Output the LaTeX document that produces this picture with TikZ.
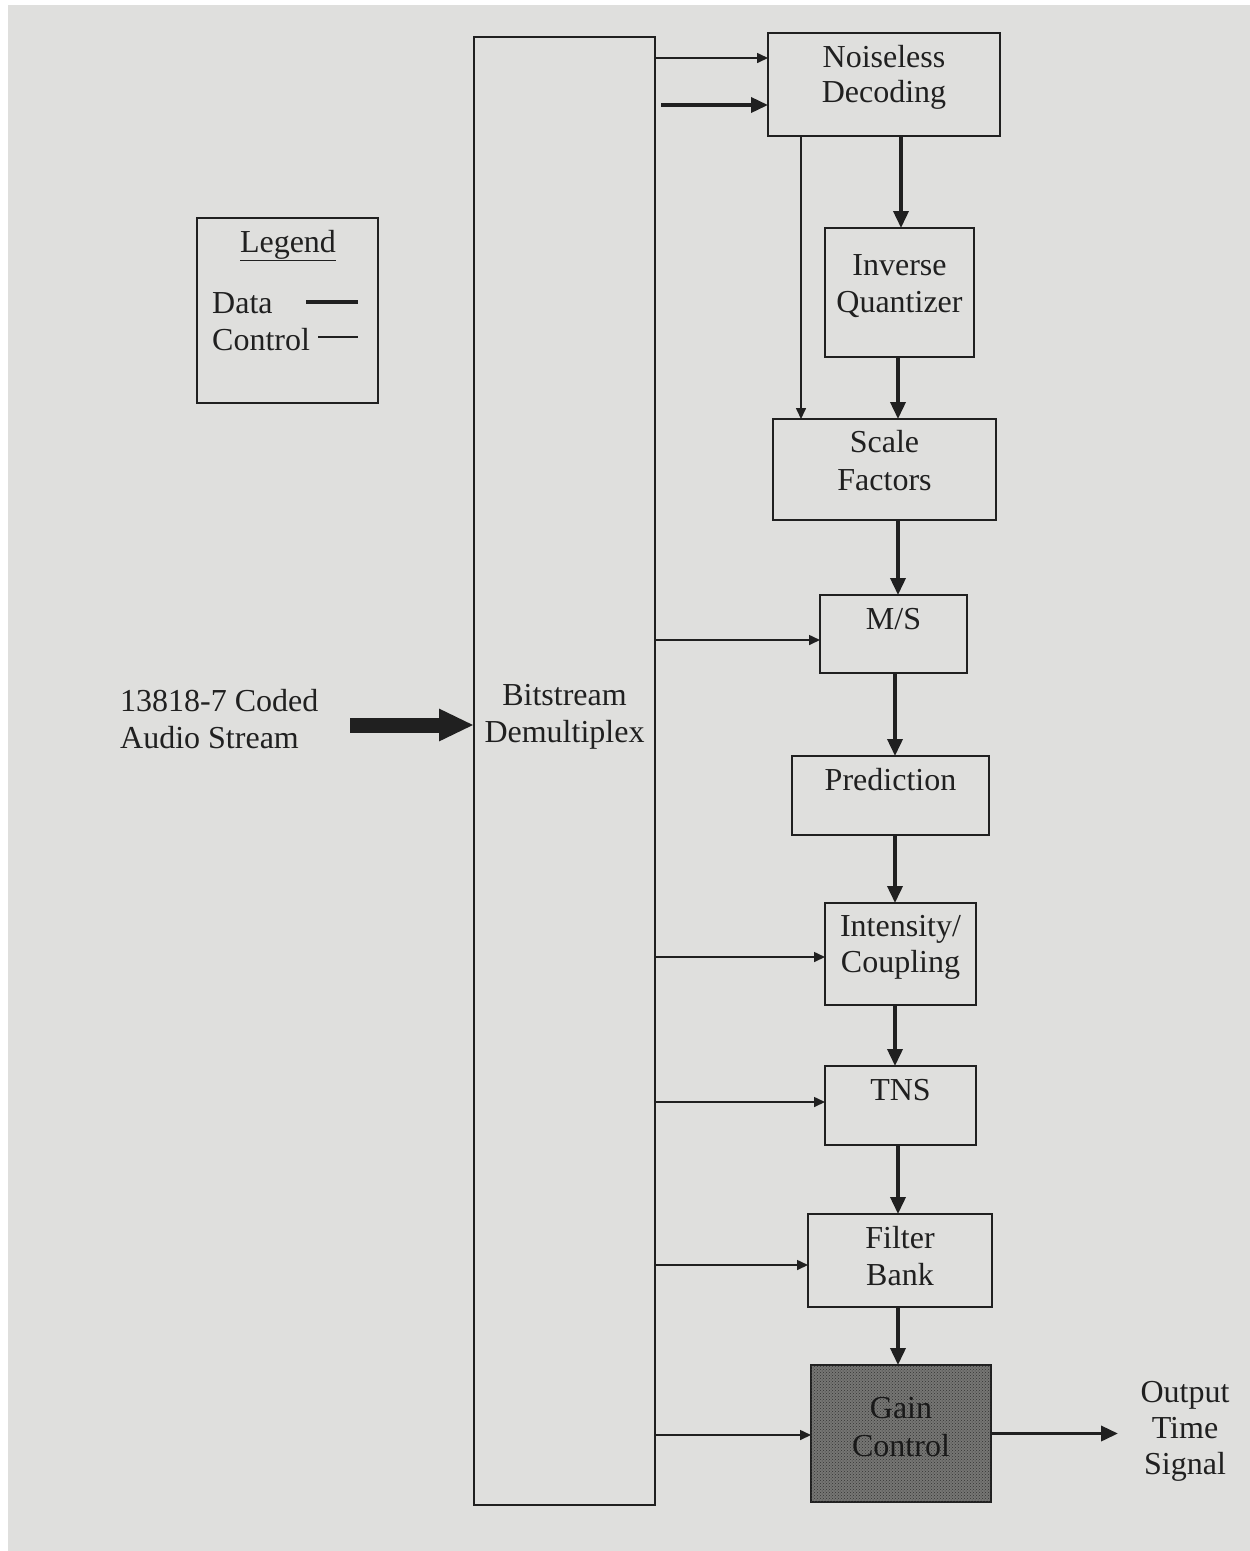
\documentclass[tikz,border=0pt]{standalone}
\usepackage{fontspec}
\setmainfont{Liberation Serif}
\usetikzlibrary{arrows.meta,patterns}
\definecolor{paper}{RGB}{223,223,221}
\definecolor{ink}{RGB}{32,32,32}
\definecolor{shade}{RGB}{118,118,116}
\begin{document}
\begin{tikzpicture}[x=1pt,y=-1pt,
  blk/.style={draw=ink,line width=2.2pt,inner sep=0pt,outer sep=0pt},
  txt/.style={anchor=base,inner sep=0pt,text=ink,font=\fontsize{32}{36}\selectfont},
  txtl/.style={txt,anchor=base west},
  ctrl/.style={draw=ink,line width=1.6pt,-{Triangle[length=11pt,width=10pt]}},
  data/.style={draw=ink,line width=3.6pt,-{Triangle[length=17pt,width=15pt]}},
  fat/.style={draw=ink,line width=15pt,-{Triangle[length=35pt,width=30pt]}},
]
\useasboundingbox (0,0) rectangle (1250,1551);
\fill[white] (0,0) rectangle (1250,1551);
\fill[paper] (8,5) rectangle (1250,1551);

% blocks (centre, size)
\node[blk,minimum width=181pt,minimum height=1468pt] (dm) at (564.5,771) {};
\node[blk,minimum width=232pt,minimum height=103pt] (nd) at (884,84.5) {};
\node[blk,minimum width=149pt,minimum height=129pt] (iq) at (899.5,292.5) {};
\node[blk,minimum width=223pt,minimum height=101pt] (sf) at (884.5,469.5) {};
\node[blk,minimum width=147pt,minimum height=78pt] (ms) at (893.5,634) {};
\node[blk,minimum width=197pt,minimum height=79pt] (pr) at (890.5,795.5) {};
\node[blk,minimum width=151pt,minimum height=102pt] (ic) at (900.5,954) {};
\node[blk,minimum width=151pt,minimum height=79pt] (tn) at (900.5,1105.5) {};
\node[blk,minimum width=184pt,minimum height=93pt] (fb) at (900,1260.5) {};
\node[blk,fill=shade,minimum width=180pt,minimum height=137pt,
      postaction={pattern=crosshatch dots,pattern color=black!80}] (gc) at (901,1433.5) {};
\node[blk,minimum width=181pt,minimum height=185pt] (lg) at (287.5,310.5) {};

% block texts
\node[txt] (dm1) at (564.5,705) {Bitstream};
\node[txt] (dm2) at (564.5,742) {Demultiplex};
\node[txt] (nd1) at (884,67) {Noiseless};
\node[txt] (nd2) at (884,102) {Decoding};
\node[txt] (iq1) at (899.5,275) {Inverse};
\node[txt] (iq2) at (899.5,312) {Quantizer};
\node[txt] (sf1) at (884.5,452) {Scale};
\node[txt] (sf2) at (884.5,490) {Factors};
\node[txt] (ms1) at (893.5,629) {M/S};
\node[txt] (pr1) at (890.5,790) {Prediction};
\node[txt] (ic1) at (900.5,936) {Intensity/};
\node[txt] (ic2) at (900.5,972) {Coupling};
\node[txt] (tn1) at (900.5,1100) {TNS};
\node[txt] (fb1) at (900,1248) {Filter};
\node[txt] (fb2) at (900,1285) {Bank};
\node[txt,text=black!90] (gc1) at (901,1418) {Gain};
\node[txt,text=black!90] (gc2) at (901,1456) {Control};

% legend
\node[txt] (lgt) at (288,252) {\underline{Legend}};
\node[txtl] (lgd) at (212,313) {Data};
\node[txtl] (lgc) at (212,350) {Control};
\coordinate (ld0) at (306,302);
\coordinate (ld1) at (358,302);
\coordinate (lc0) at (318,337);
\coordinate (lc1) at (358,337);
\draw[ink,line width=3.6pt] (ld0) -- (ld1);
\draw[ink,line width=1.6pt] (lc0) -- (lc1);

% input and output
\node[txtl] (in1) at (120,711) {13818-7 Coded};
\node[txtl] (in2) at (120,748) {Audio Stream};
\node[txt] (out1) at (1185,1402) {Output};
\node[txt] (out2) at (1185,1438) {Time};
\node[txt] (out3) at (1185,1474) {Signal};
\coordinate (instart) at (350,725);
\coordinate (outtip) at (1118,1433.5);
\draw[fat] (instart) -- (dm.west |- instart);
\draw[data] (gc.east) -- (outtip);

% column positions of the vertical flows
\coordinate (cola) at (901,0);
\coordinate (colb) at (898,0);
\coordinate (colc) at (895,0);
\coordinate (colk) at (801,0);

% control lines from the demultiplexer
\draw[ctrl] ([yshift=26.5pt]nd.west -| dm.east) -- ([yshift=26.5pt]nd.west);
\draw[data] ([yshift=-20.5pt,xshift=6pt]nd.west -| dm.east) -- ([yshift=-20.5pt]nd.west);
\draw[ctrl] (nd.south -| colk) -- (sf.north -| colk);
\draw[ctrl] ([yshift=-6pt]ms.west -| dm.east) -- ([yshift=-6pt]ms.west);
\draw[ctrl] ([yshift=-3pt]ic.west -| dm.east) -- ([yshift=-3pt]ic.west);
\draw[ctrl] ([yshift=3.5pt]tn.west -| dm.east) -- ([yshift=3.5pt]tn.west);
\draw[ctrl] ([yshift=-4.5pt]fb.west -| dm.east) -- ([yshift=-4.5pt]fb.west);
\draw[ctrl] ([yshift=-1.5pt]gc.west -| dm.east) -- ([yshift=-1.5pt]gc.west);

% data path
\draw[data] (nd.south -| cola) -- (iq.north -| cola);
\draw[data] (iq.south -| colb) -- (sf.north -| colb);
\draw[data] (sf.south -| colb) -- (ms.north -| colb);
\draw[data] (ms.south -| colc) -- (pr.north -| colc);
\draw[data] (pr.south -| colc) -- (ic.north -| colc);
\draw[data] (ic.south -| colc) -- (tn.north -| colc);
\draw[data] (tn.south -| colb) -- (fb.north -| colb);
\draw[data] (fb.south -| colb) -- (gc.north -| colb);
\end{tikzpicture}
\end{document}
